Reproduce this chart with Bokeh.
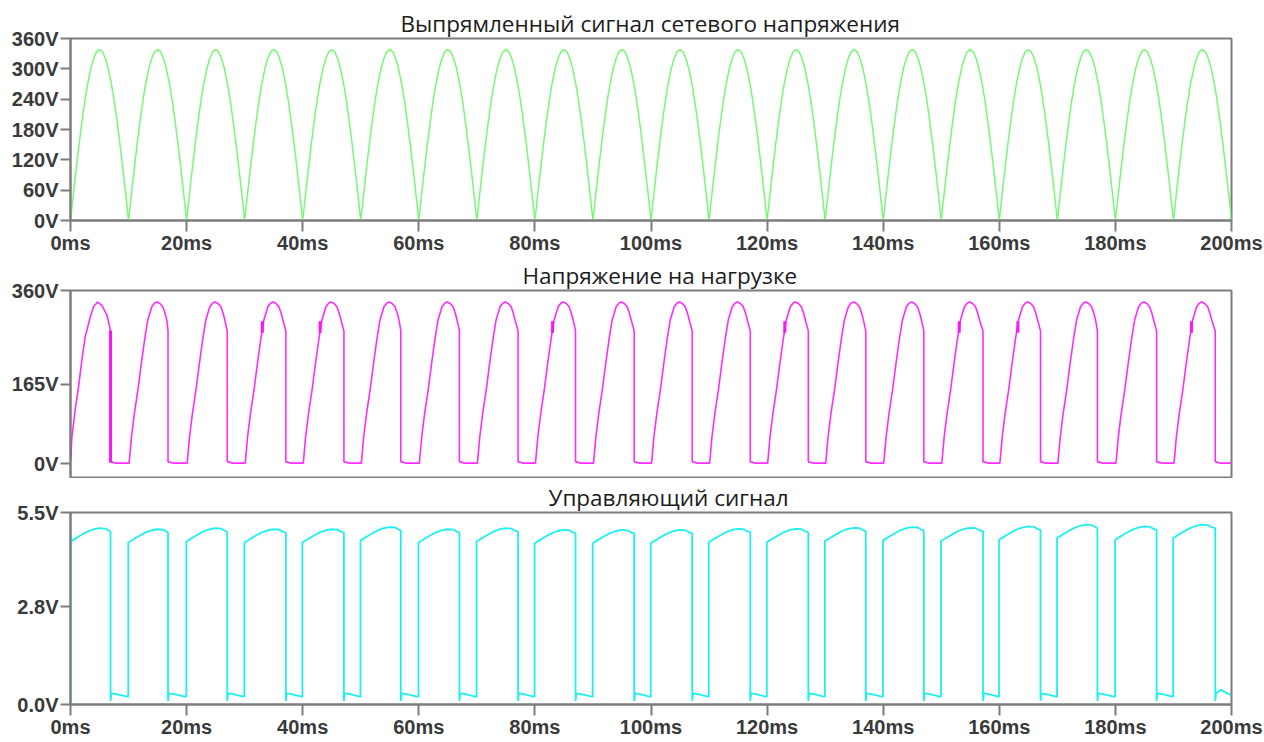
import numpy as np
from bokeh.plotting import figure
from bokeh.layouts import column
from bokeh.models import Range1d, FixedTicker, CustomJSTickFormatter
from bokeh.embed import file_html
from bokeh.resources import INLINE

# ---------------- data ----------------
titles = ["Выпрямленный сигнал сетевого напряжения",
          "Напряжение на нагрузке",
          "Управляющий сигнал"]

x_ticks_ms = [0, 20, 40, 60, 80, 100, 120, 140, 160, 180, 200]
y_ticks_top = [0, 60, 120, 180, 240, 300, 360]
y_ticks_mid = [0, 165, 360]
y_ticks_bot = [0.0, 2.8, 5.5]

half_period_starts_ms = [0, 10, 20, 30, 40, 50, 60, 70, 80, 90,
                         100, 110, 120, 130, 140, 150, 160, 170, 180, 190]

# one rectified half-wave of the mains (time from half-period start, volts)
mains_hump_ms = [0, 0.5, 1, 1.5, 2, 2.5, 3, 3.5, 4, 4.5, 5,
                 5.5, 6, 6.5, 7, 7.5, 8, 8.5, 9, 9.5, 10]
mains_hump_v = [0, 53, 104, 153, 198, 239, 273, 301, 321, 334, 338,
                334, 321, 301, 273, 239, 198, 153, 104, 53, 0]

# switch-off instants of each half period (ms)
cut_ms = [6.9, 16.8, 27.0, 37.1, 47.1, 56.9, 67.0, 77.1, 87.0, 97.1,
          107.1, 117.1, 127.1, 137.0, 147.0, 157.2, 167.1, 176.9, 187.1, 197.2]

# load voltage: first half-wave and typical later half-wave (relative ms, V)
load_first_ms = [0, 0.24, 0.8, 1.38, 1.96, 2.53, 3.4, 3.97, 4.66, 5.4, 6.28]
load_first_v = [3, 55, 111, 159, 215, 263, 305, 326, 336, 329, 309]
load_hump_ms = [0.1, 0.5, 1.0, 1.6, 2.2, 2.75, 3.3, 4.0, 4.5, 4.9, 5.4, 5.9, 6.3, 6.6]
load_hump_v = [1, 55, 104, 152, 208, 256, 298, 326, 334, 336, 333, 326, 312, 298]
load_cut_top_v = 276
load_floor_v = [4, 1]
load_glitch_ms = [0.0, 6.9, 33.05, 43.0, 83.05, 123.05, 153.1, 163.2, 193.1]
load_glitch_lo_v = [14, 2, 272, 272, 272, 272, 272, 272, 272]
load_glitch_hi_v = [42, 277, 296, 296, 296, 296, 296, 296, 296]

# control signal
ctrl_high_ms = [0, 0.3, 0.6, 1.2, 2.0, 3.0, 4.0, 5.0, 6.0, 6.5]
ctrl_high_dv = [-0.38, -0.35, -0.32, -0.26, -0.18, -0.09, -0.03, 0.0, -0.01, -0.06]
ctrl_peak_v = [5.05, 5.02, 5.05, 5.02, 5.02, 5.08, 5.02, 5.05, 5.0, 5.0,
               5.0, 5.03, 5.03, 5.06, 5.08, 5.06, 5.1, 5.15, 5.1, 5.15]
ctrl_low_v = [0.10, 0.32, 0.30, 0.22]
ctrl_end_v = [0.42, 0.26]

# ---------------- build traces ----------------
mt, mv = [], []
for k, t0 in enumerate(half_period_starts_ms):
    for j, (t, v) in enumerate(zip(mains_hump_ms, mains_hump_v)):
        if k > 0 and j == 0:
            continue
        mt.append(t0 + t)
        mv.append(v)

lt, lv = [], []
for k, t0 in enumerate(half_period_starts_ms):
    c = cut_ms[k]
    if k == 0:
        src_t, src_v = load_first_ms, load_first_v
    else:
        src_t, src_v = load_hump_ms, load_hump_v
        lt.append(t0); lv.append(load_floor_v[1])
    for t, v in zip(src_t, src_v):
        if t0 + t < c:
            lt.append(t0 + t); lv.append(v)
    lt += [c, c, c + 0.8]
    lv += [load_cut_top_v, load_floor_v[0], load_floor_v[1]]
lt.append(200); lv.append(load_floor_v[1])

ct, cv = [0, 0, 0.15], [0, 4.9, 4.65]
for k, t0 in enumerate(half_period_starts_ms):
    pk = ctrl_peak_v[k]
    rise = t0 if k == 0 else t0 - 0.05
    for t, dv in zip(ctrl_high_ms, ctrl_high_dv):
        if k == 0 and t < 0.3:
            continue
        ct.append(rise + t); cv.append(pk + dv)
    d = cut_ms[k]
    ct += [d, d, d + 0.15]
    cv += [pk - 0.1, ctrl_low_v[0], ctrl_low_v[1]]
    if k < len(half_period_starts_ms) - 1:
        nxt = half_period_starts_ms[k + 1] - 0.05
        ct += [d + 1.0, nxt, nxt]
        cv += [ctrl_low_v[2], ctrl_low_v[3], ctrl_low_v[3]]
    else:
        ct += [d + 1.0, 200]
        cv += [ctrl_end_v[0], ctrl_end_v[1]]

# ---------------- styling helpers ----------------
FRAME = "#7c7c7c"
LABEL = "#3a3a3a"
W = 1264
TITLE_OFFSETS = [330, 452, 478]


def make_fig(h, bt, bb, yr, idx):
    p = figure(width=W, height=h, x_range=Range1d(0, 200), y_range=yr,
               output_backend="svg", toolbar_location=None,
               min_border_left=70, min_border_right=33,
               min_border_top=bt, min_border_bottom=bb, title=titles[idx])
    p.title.align = "left"
    p.title.offset = TITLE_OFFSETS[idx]
    p.title.text_font = "Open Sans"
    p.title.text_font_size = "22.5px"
    p.title.text_font_style = "normal"
    p.title.text_color = "#1c1c1c"
    p.title.standoff = 0
    p.grid.visible = False
    p.background_fill_color = "white"
    p.border_fill_color = "white"
    p.outline_line_color = FRAME
    p.outline_line_width = 2
    for ax in (p.xaxis, p.yaxis):
        ax.axis_line_color = FRAME
        ax.axis_line_width = 2
        ax.major_tick_line_color = FRAME
        ax.major_tick_line_width = 2
        ax.major_tick_in = 0
        ax.major_tick_out = 10
        ax.minor_tick_line_color = None
        ax.major_label_text_font = "Liberation Sans"
        ax.major_label_text_font_style = "bold"
        ax.major_label_text_font_size = "20px"
        ax.major_label_text_color = LABEL
    p.xaxis.ticker = FixedTicker(ticks=x_ticks_ms)
    p.xaxis.formatter = CustomJSTickFormatter(code='return tick.toFixed(0) + "ms";')
    p.xaxis.major_tick_out = 11
    p.xaxis.major_label_standoff = 0
    p.yaxis.major_label_standoff = 2
    return p


p1 = make_fig(256, 38, 35, Range1d(0, 360), 0)
p1.yaxis.ticker = FixedTicker(ticks=y_ticks_top)
p1.yaxis.formatter = CustomJSTickFormatter(code='return tick.toFixed(0) + "V";')
p1.line(mt, mv, line_color="#78f878", line_width=1.5)

p2 = make_fig(222, 34, 1, Range1d(-29, 360), 1)
p2.yaxis.ticker = FixedTicker(ticks=y_ticks_mid)
p2.yaxis.formatter = CustomJSTickFormatter(code='return tick.toFixed(0) + "V";')
p2.xaxis.visible = False
p2.line(lt, lv, line_color="#ff2cff", line_width=1.6)
p2.segment(x0=load_glitch_ms, y0=load_glitch_lo_v, x1=load_glitch_ms, y1=load_glitch_hi_v,
           line_color="#ff10ff", line_width=3)

p3 = make_fig(262, 34, 35, Range1d(0, 5.5), 2)
p3.yaxis.ticker = FixedTicker(ticks=y_ticks_bot)
p3.yaxis.formatter = CustomJSTickFormatter(code='return tick.toFixed(1) + "V";')
p3.line(ct, cv, line_color="#1ef0f0", line_width=1.8)

layout = column(p1, p2, p3)
open("out.html", "w").write(file_html(layout, INLINE))
